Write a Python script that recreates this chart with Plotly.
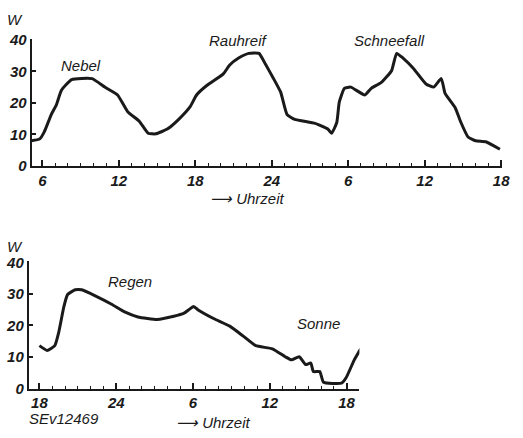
import plotly.graph_objects as go

# Top chart: hours (continuous, starting day 1), power W
top_hours = [5.15, 5.8, 6.15, 6.7, 7.1, 7.5, 8.3, 9.9, 10.9, 11.9, 12.7, 13.6, 14.3, 14.9,
             15.8, 16.7, 17.6, 18.1, 18.9, 20.2, 20.7, 21.4, 22.2, 23.0, 23.5, 24.1, 24.7,
             25.2, 25.8, 27.4, 28.4, 28.7, 29.1, 29.3, 29.7, 30.2, 31.3, 31.8, 32.6, 33.4,
             33.8, 34.3, 35.1, 36.1, 36.7, 37.3, 37.6, 38.4, 38.8, 39.4, 40.0, 40.8, 41.9]
top_watts = [8.0, 8.6, 10.8, 16.3, 19.4, 24.0, 27.4, 27.7, 25.0, 22.5, 17.2, 14.2, 10.4, 10.2,
             11.7, 14.8, 18.8, 22.5, 25.5, 29.2, 32.0, 34.2, 35.7, 35.7, 32.3, 28.0, 23.4,
             16.3, 14.8, 13.5, 11.7, 10.4, 13.8, 20.3, 24.6, 25.0, 22.5, 24.6, 26.5, 30.2,
             35.7, 34.2, 31.0, 26.0, 25.0, 27.7, 23.0, 18.4, 14.2, 9.2, 8.0, 7.7, 5.3]

# Bottom chart
bot_hours = [18.0, 18.6, 19.2, 19.5, 19.7, 19.9, 20.2, 20.8, 21.3, 22.4, 23.6, 24.7, 25.7,
             27.2, 28.5, 29.3, 30.05, 30.4, 31.6, 32.9, 33.9, 34.9, 36.2, 37.2, 37.7, 38.3,
             38.8, 39.2, 39.4, 39.9, 40.2, 41.6, 41.97, 42.6, 43.1]
bot_watts = [13.6, 12.1, 13.6, 17.7, 21.7, 25.8, 29.8, 31.3, 31.3, 29.3, 26.8, 24.2, 22.7,
             21.9, 22.9, 23.9, 26.0, 24.9, 22.2, 19.7, 16.7, 13.6, 12.6, 10.1, 9.1, 10.1,
             7.6, 8.1, 5.4, 5.4, 2.0, 1.7, 3.5, 9.1, 12.6]

top_tickvals = [6, 12, 18, 24, 30, 36, 42]
top_ticktext = ["6", "12", "18", "24", "6", "12", "18"]
bot_tickvals = [18, 24, 30, 36, 42]
bot_ticktext = ["18", "24", "6", "12", "18"]
y_tickvals = [0, 10, 20, 30, 40]

W, H = 523, 438
FONT = "Liberation Sans Narrow, Liberation Sans, Arial, sans-serif"
INK = "#1a1a1a"

fig = go.Figure()
fig.add_trace(go.Scatter(x=top_hours, y=top_watts, mode="lines",
                         line=dict(color=INK, width=3, shape="spline", smoothing=0.45),
                         xaxis="x", yaxis="y", showlegend=False, hoverinfo="skip"))
fig.add_trace(go.Scatter(x=bot_hours, y=bot_watts, mode="lines",
                         line=dict(color=INK, width=3, shape="spline", smoothing=0.45),
                         xaxis="x2", yaxis="y2", showlegend=False, hoverinfo="skip"))

tickfont = dict(family=FONT, size=15, color=INK, style="italic", weight="bold")

def xax(domain, rng, tv, tt, anchor):
    return dict(domain=domain, range=rng, tickvals=tv, ticktext=tt, anchor=anchor,
                showline=True, linecolor=INK, linewidth=1.6, showgrid=False, zeroline=False,
                ticks="inside", ticklen=6, tickwidth=1.5, tickcolor=INK, tickfont=tickfont,
                minor=dict(dtick=1, tick0=0, ticks="inside", ticklen=3, tickwidth=1, tickcolor=INK,
                           showgrid=False))

def yax(domain, anchor):
    return dict(domain=domain, range=[0, 40.3], tickvals=y_tickvals, anchor=anchor,
                showline=True, linecolor=INK, linewidth=1.6, showgrid=False, zeroline=False,
                ticks="inside", ticklen=5, tickwidth=1.5, tickcolor=INK, tickfont=tickfont)

fig.update_layout(
    width=W, height=H, margin=dict(l=0, r=0, t=0, b=0),
    paper_bgcolor="white", plot_bgcolor="white",
    xaxis=xax([32 / W, 510 / W], [5.15, 42.08], top_tickvals, top_ticktext, "y"),
    yaxis=yax([(H - 164) / H, (H - 32) / H], "x"),
    xaxis2=xax([29 / W, 365 / W], [17.15, 43.0], bot_tickvals, bot_ticktext, "y2"),
    yaxis2=yax([(H - 395) / H, (H - 263) / H], "x2"),
)

lab = dict(family=FONT, size=15, color=INK, style="italic")
ann = [
    dict(text="Nebel", x=9.0, y=31.7, xref="x", yref="y"),
    dict(text="Rauhreif", x=21.4, y=39.8, xref="x", yref="y"),
    dict(text="Schneefall", x=33.2, y=39.8, xref="x", yref="y"),
    dict(text="Regen", x=25.1, y=33.9, xref="x2", yref="y2"),
    dict(text="Sonne", x=39.8, y=20.6, xref="x2", yref="y2"),
    dict(text="W", x=15 / W, y=1 - 12 / H, xref="paper", yref="paper"),
    dict(text="W", x=15 / W, y=1 - 248 / H, xref="paper", yref="paper"),
    dict(text="⟶ Uhrzeit", x=251 / W, y=1 - 198 / H, xref="paper", yref="paper"),
    dict(text="⟶ Uhrzeit", x=217 / W, y=1 - 430 / H, xref="paper", yref="paper"),
    dict(text="SEv12469", x=65 / W, y=1 - 426 / H, xref="paper", yref="paper"),
]
for a in ann:
    a.update(showarrow=False, font=lab, xanchor="center", yanchor="middle")
fig.update_layout(annotations=ann)

fig.write_html("out.html", config={"displayModeBar": False},
               post_script="document.body.style.margin='0';")
